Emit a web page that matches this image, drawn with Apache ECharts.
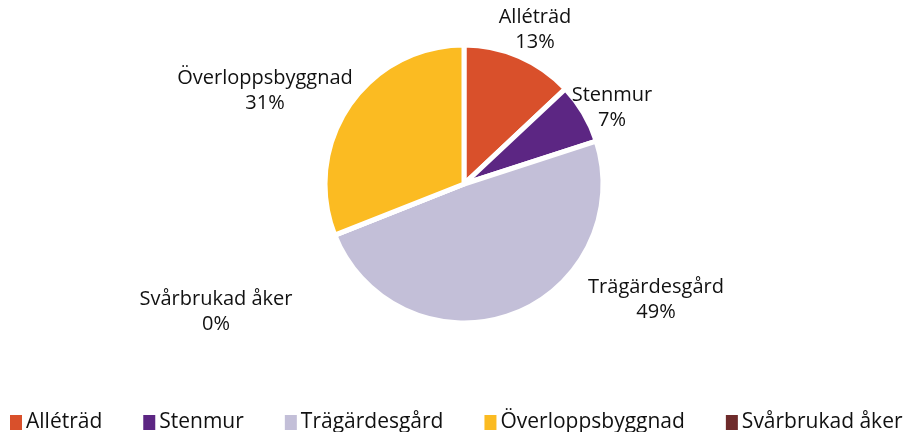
<!DOCTYPE html>
<html>
<head>
<meta charset="utf-8">
<script src="https://cdn.jsdelivr.net/npm/echarts@6/dist/echarts.min.js"></script>
<style>
    html, body { margin: 0; padding: 0; background: #fff; }
    #chart { width: 916px; height: 432px; }
</style>
</head>
<body>
<div id="chart"></div>
<script>
// slice order as drawn clockwise from the top
let names = ['Alléträd', 'Stenmur', 'Trägärdesgård', 'Svårbrukad åker', 'Överloppsbyggnad'];
let values = [13, 7, 49, 0, 31];                 // procent
let legendOrder = ['Alléträd', 'Stenmur', 'Trägärdesgård', 'Överloppsbyggnad', 'Svårbrukad åker'];

let colors = {
    'Alléträd': '#d9502b',
    'Stenmur': '#5c2683',
    'Trägärdesgård': '#c3bfd8',
    'Svårbrukad åker': '#6e2b2b',
    'Överloppsbyggnad': '#fbbb22'
};
// label centres, placed by hand like in the original
let labelPos = [[535, 30], [612, 108], [656, 300], [216, 312], [265, 91]];

let font = '"Open Sans", sans-serif';
let datas = names.map((n, i) => ({
    name: n,
    value: values[i],
    itemStyle: { color: colors[n] }
}));

let chart = echarts.init(document.getElementById('chart'));
chart.setOption({
    animation: false,
    legend: {
        data: legendOrder,
        left: 10,
        top: 412,
        padding: 0,
        icon: 'rect',
        itemWidth: 12,
        itemHeight: 15,
        itemGap: 41,
        itemStyle: { borderWidth: 0 },
        textStyle: {
            color: '#111',
            fontSize: 21,
            fontFamily: font,
            padding: [0, 0, 0, -1]
        }
    },
    series: [
        {
            type: 'pie',
            radius: 139,
            center: [464, 184],
            startAngle: 90,
            clockwise: true,
            avoidLabelOverlap: false,
            itemStyle: {
                borderColor: '#fff',
                borderWidth: 5
            },
            label: {
                show: true,
                position: 'outside',
                color: '#111',
                fontSize: 20,
                lineHeight: 25,
                fontFamily: font,
                align: 'center',
                formatter: (p) => p.name + '\n' + Math.round(p.percent) + '%'
            },
            labelLine: { show: false },
            labelLayout: (params) => ({
                x: labelPos[params.dataIndex][0],
                y: labelPos[params.dataIndex][1],
                align: 'center',
                verticalAlign: 'middle'
            }),
            data: datas
        }
    ]
});
</script>
</body>
</html>
